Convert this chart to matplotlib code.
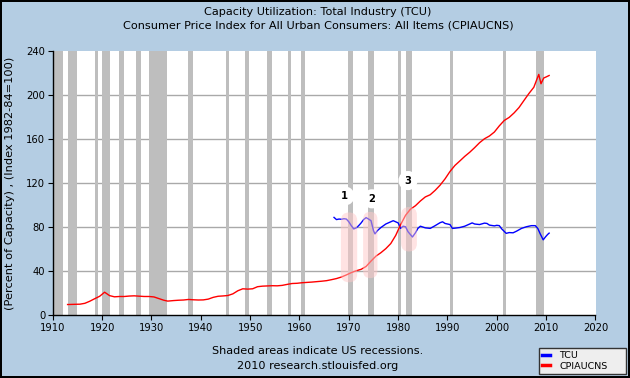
import matplotlib
matplotlib.use("Agg")
import matplotlib.pyplot as plt
from matplotlib.patches import FancyBboxPatch
from matplotlib.lines import Line2D

# ---- data ----
cpi_years = [1913.0, 1914.5, 1915.5, 1916.5, 1917.5, 1918.5, 1919.5, 1920.5, 1921.5, 1922.5,
             1923.5, 1924.5, 1925.5, 1926.5, 1927.5, 1928.5, 1929.5, 1930.5, 1931.5, 1932.5,
             1933.3, 1934.5, 1935.5, 1936.5, 1937.5, 1938.5, 1939.5, 1940.5, 1941.5, 1942.5,
             1943.5, 1944.5, 1945.5, 1946.5, 1947.5, 1948.5, 1949.5, 1950.5, 1951.5, 1952.5,
             1953.5, 1954.5, 1955.5, 1956.5, 1957.5, 1958.5, 1959.5, 1960.5, 1961.5, 1962.5,
             1963.5, 1964.5, 1965.5, 1966.5, 1967.5, 1968.5, 1969.5, 1970.5, 1971.5, 1972.5,
             1973.5, 1974.5, 1975.5, 1976.5, 1977.5, 1978.5, 1979.5, 1980.5, 1981.5, 1982.5,
             1983.5, 1984.5, 1985.5, 1986.5, 1987.5, 1988.5, 1989.5, 1990.5, 1991.5, 1992.5,
             1993.5, 1994.5, 1995.5, 1996.5, 1997.5, 1998.5, 1999.5, 2000.5, 2001.5, 2002.5,
             2003.5, 2004.5, 2005.5, 2006.5, 2007.5, 2008.5, 2008.95, 2009.5, 2010.0, 2010.6]
cpi_values = [9.8, 10.0, 10.1, 10.9, 12.8, 15.1, 17.3, 21.0, 17.9, 16.8,
              17.1, 17.1, 17.5, 17.7, 17.4, 17.1, 17.1, 16.7, 15.2, 13.7,
              12.9, 13.4, 13.7, 13.9, 14.4, 14.1, 13.9, 14.0, 14.7, 16.3,
              17.3, 17.6, 18.0, 19.5, 22.3, 24.1, 23.8, 24.1, 26.0, 26.5,
              26.7, 26.9, 26.8, 27.2, 28.1, 28.9, 29.1, 29.6, 29.9, 30.2,
              30.6, 31.0, 31.5, 32.4, 33.4, 34.8, 36.7, 38.8, 40.5, 41.8,
              44.4, 49.3, 53.8, 56.9, 60.6, 65.2, 72.6, 82.4, 90.9, 96.5,
              99.6, 103.9, 107.6, 109.6, 113.6, 118.3, 124.0, 130.7, 136.2, 140.3,
              144.5, 148.2, 152.4, 156.9, 160.5, 163.0, 166.6, 172.2, 177.1, 179.9,
              184.0, 188.9, 195.3, 201.6, 207.3, 219.0, 210.5, 215.7, 216.7, 218.0]

tcu_years = [1967.0, 1967.5, 1968.0, 1968.5, 1969.0, 1969.5, 1970.0, 1970.5, 1971.0, 1971.5,
             1972.0, 1972.5, 1973.0, 1973.5, 1974.0, 1974.5, 1975.0, 1975.3, 1975.8, 1976.5,
             1977.5, 1978.5, 1979.0, 1979.5, 1980.0, 1980.5, 1981.0, 1981.5, 1982.0, 1982.9,
             1983.5, 1984.0, 1984.5, 1985.5, 1986.5, 1987.5, 1988.5, 1989.0, 1989.5, 1990.5,
             1991.0, 1991.5, 1992.5, 1993.5, 1994.5, 1995.0, 1995.5, 1996.5, 1997.5, 1998.0,
             1998.5, 1999.5, 2000.0, 2000.5, 2001.0, 2001.9, 2002.5, 2003.3, 2004.0, 2005.0,
             2006.0, 2007.0, 2007.8, 2008.3, 2008.8, 2009.4, 2009.9, 2010.3, 2010.6]
tcu_values = [89.0, 87.0, 87.5, 87.3, 87.8, 87.5, 85.0, 81.5, 78.5, 79.5,
              81.5, 84.0, 87.0, 88.8, 87.5, 86.0, 77.0, 74.0, 77.0, 79.8,
              83.0, 85.0, 86.0, 85.0, 84.0, 79.0, 81.0, 80.5, 76.0, 71.2,
              75.0, 79.0, 81.0, 79.5, 79.0, 81.5, 84.2, 85.0, 83.5, 82.5,
              79.0, 79.2, 79.8, 81.0, 83.0, 84.0, 83.0, 82.5, 83.8, 83.5,
              82.0, 81.3, 81.8, 81.5, 78.5, 74.5, 75.2, 75.0, 76.5, 79.0,
              80.5, 81.5, 81.5, 79.0, 74.0, 68.6, 71.5, 73.5, 74.7]

recession_start = [1910.0, 1913.0, 1918.6, 1920.0, 1923.4, 1926.8, 1929.6, 1937.4, 1945.1,
                   1948.9, 1953.5, 1957.6, 1960.3, 1969.9, 1973.8, 1980.0, 1981.5, 1990.5,
                   2001.2, 2007.9]
recession_end = [1912.0, 1914.9, 1919.2, 1921.5, 1924.5, 1927.9, 1933.2, 1938.5, 1945.8,
                 1949.8, 1954.4, 1958.3, 1961.1, 1970.9, 1975.2, 1980.5, 1982.9, 1991.2,
                 2001.9, 2009.5]

x_ticks = [1910, 1920, 1930, 1940, 1950, 1960, 1970, 1980, 1990, 2000, 2010, 2020]
y_ticks = [0, 40, 80, 120, 160, 200, 240]

title_lines = ["Capacity Utilization: Total Industry (TCU)",
               "Consumer Price Index for All Urban Consumers: All Items (CPIAUCNS)"]
y_label = "(Percent of Capacity) , (Index 1982-84=100)"
footer_lines = ["Shaded areas indicate US recessions.", "2010 research.stlouisfed.org"]
series_names = ["TCU", "CPIAUCNS"]
marker_labels = ["1", "2", "3"]

# ---- figure ----
W, H = 630, 378
BG = "#b4cde3"
fig = plt.figure(figsize=(W / 100, H / 100), dpi=100)
fig.patch.set_facecolor(BG)
fig.patch.set_edgecolor("black")
fig.patch.set_linewidth(1.5)

left, right, top, bottom = 52.8, 595.5, 51.3, 315.3
ax = fig.add_axes([left / W, 1 - bottom / H, (right - left) / W, (bottom - top) / H])
ax.set_facecolor("white")
ax.set_xlim(1910, 2020)
ax.set_ylim(0, 240)

FS_TICK = 7.2
FS_TEXT = 8.1
for s, e in zip(recession_start, recession_end):
    ax.axvspan(s, e, color="#bebebe", lw=0, zorder=1)
for yv in y_ticks[1:-1]:
    ax.axhline(yv, color="#a9a9a9", lw=1.0, zorder=0.5)

ax.plot(tcu_years, tcu_values, color="#0000ff", lw=1.0, zorder=3)
ax.plot(cpi_years, cpi_values, color="#ff0000", lw=1.0, zorder=3)

# highlighted periods (pink capsules)
px_per_x = (right - left) / 110.0
px_per_y = (bottom - top) / 240.0
aspect = px_per_x / px_per_y
for (x0, x1, y0, y1) in [(1968.4, 1971.7, 30.0, 93.5),
                         (1972.9, 1975.8, 33.8, 94.0),
                         (1980.6, 1983.8, 58.0, 98.4)]:
    w = x1 - x0
    p = FancyBboxPatch((x0, y0), w, y1 - y0,
                       boxstyle=f"round,pad=0,rounding_size={w / 2:.3f}",
                       mutation_aspect=aspect,
                       facecolor="#ffc8c8", edgecolor="none", alpha=0.5, zorder=4)
    ax.add_patch(p)

for lab, (mx, my) in zip(marker_labels, [(1969.2, 108.5), (1974.7, 105.9), (1982.0, 122.5)]):
    ax.scatter([mx], [my], s=190, color="white", edgecolors="none", zorder=5)
    ax.text(mx, my, lab, ha="center", va="center", fontsize=FS_TICK, color="black",
            fontweight="bold", zorder=6)

for side in ["top", "right"]:
    ax.spines[side].set_visible(False)
for side in ["left", "bottom"]:
    ax.spines[side].set_color("black")
    ax.spines[side].set_linewidth(1.0)
ax.set_xticks(x_ticks)
ax.set_yticks(y_ticks)
ax.tick_params(axis="both", direction="out", length=3.5, width=0.8, labelsize=FS_TICK,
               colors="black", pad=2)

fig.text(318 / W, 1 - 11.7 / H, title_lines[0], ha="center", va="center", fontsize=FS_TEXT)
fig.text(318 / W, 1 - 25.7 / H, title_lines[1], ha="center", va="center", fontsize=FS_TEXT)
fig.text(10 / W, 1 - 183 / H, y_label, rotation=90, ha="center", va="center", fontsize=8.2)
fig.text(318 / W, 1 - 351 / H, footer_lines[0], ha="center", va="center", fontsize=FS_TEXT)
fig.text(318 / W, 1 - 366 / H, footer_lines[1], ha="center", va="center", fontsize=FS_TEXT)

handles = [Line2D([], [], color="#0000ff", lw=2.5), Line2D([], [], color="#ff0000", lw=2.5)]
lx0, lx1, ly0, ly1 = 539, 626, 346.7, 374
leg = fig.legend(handles, series_names, loc="lower left",
                 bbox_to_anchor=(lx0 / W, 1 - ly1 / H, (lx1 - lx0) / W, (ly1 - ly0) / H),
                 mode="expand", fontsize=6.8, frameon=True, fancybox=False,
                 handlelength=0.8, handletextpad=1.0, borderaxespad=0, labelspacing=0.2,
                 borderpad=0.35)
leg.get_frame().set_facecolor("#eeeeee")
leg.get_frame().set_edgecolor("#333333")
leg.get_frame().set_linewidth(1.0)
leg.get_frame().set_alpha(1)

fig.savefig("out.png", dpi=100, facecolor=fig.get_facecolor(), edgecolor=fig.get_edgecolor())
